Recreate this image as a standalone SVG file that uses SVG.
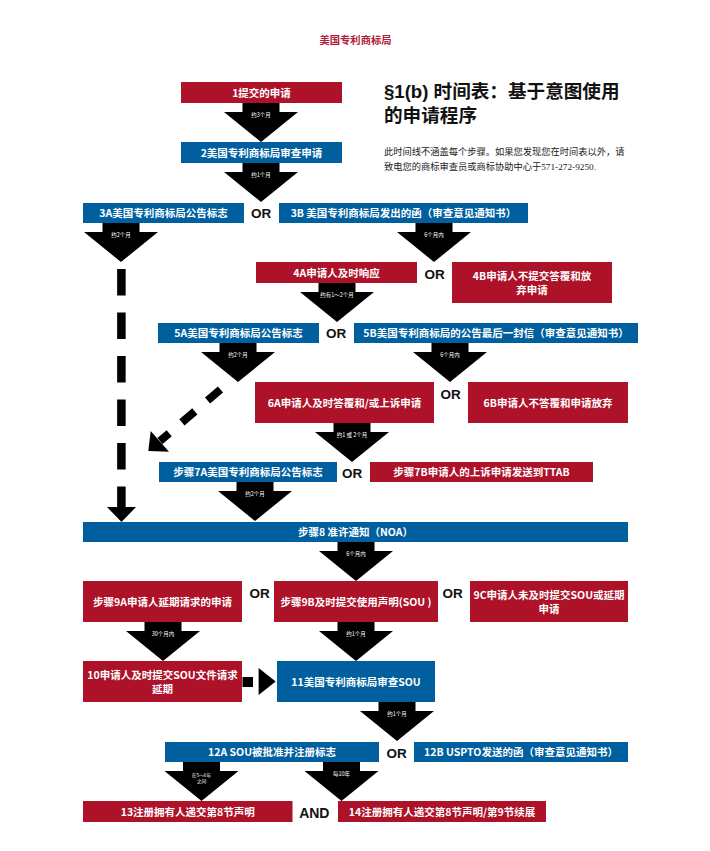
<svg xmlns="http://www.w3.org/2000/svg" xmlns:xlink="http://www.w3.org/1999/xlink" width="710" height="851" viewBox="0 0 710 851">
<style>
.red{fill:#ad1229}
.blue{fill:#00609f}
.bt{font-family:"Noto Sans CJK SC","Noto Sans",sans-serif;font-weight:bold;font-size:10.5px;fill:#fff;text-anchor:middle}
.or{font-family:"Liberation Sans",Arial,sans-serif;font-weight:bold;font-size:13.5px;fill:#111;text-anchor:middle}
.lbl{font-family:"Noto Sans CJK SC","Noto Sans",sans-serif;font-size:5.5px;fill:#fff;text-anchor:middle}
.arr{fill:#000}
</style>
<defs>
<path id="bigArrow" d="M-18.5,0 H18.5 V9 H37 L0,39 L-37,9 H-18.5 Z"/>
</defs>
<rect width="710" height="851" fill="#fff"/>
<g id="header">
<text x="355.5" y="44" style="font-family:'Noto Sans CJK SC',sans-serif;font-weight:bold;font-size:10.3px;fill:#b0203a;text-anchor:middle">美国专利商标局</text>
<text x="384" y="98" style="font-family:'Liberation Sans','Noto Sans CJK SC',sans-serif;font-weight:bold;font-size:18.6px;fill:#111">§1(b) 时间表：基于意图使用</text>
<text x="384" y="121.5" style="font-family:'Noto Sans CJK SC',sans-serif;font-weight:bold;font-size:18.6px;fill:#111">的申请程序</text>
<text x="384" y="155.2" style="font-family:'Liberation Serif','Noto Sans CJK SC',serif;font-size:9.25px;fill:#1a1a1a">此时间线不涵盖每个步骤。如果您发现您在时间表以外，请</text>
<text x="384" y="170.2" style="font-family:'Liberation Serif','Noto Sans CJK SC',serif;font-size:9.25px;fill:#1a1a1a">致电您的商标审查员或商标协助中心于571-272-9250.</text>
</g>
<g id="connectors">
<use xlink:href="#bigArrow" href="#bigArrow" x="261" y="103" class="arr"/>
<use xlink:href="#bigArrow" href="#bigArrow" x="261" y="163" class="arr"/>
<use xlink:href="#bigArrow" href="#bigArrow" x="121" y="223" class="arr"/>
<use xlink:href="#bigArrow" href="#bigArrow" x="434" y="223" class="arr"/>
<use xlink:href="#bigArrow" href="#bigArrow" x="337" y="283" class="arr"/>
<use xlink:href="#bigArrow" href="#bigArrow" x="238" y="343" class="arr"/>
<use xlink:href="#bigArrow" href="#bigArrow" x="450" y="343" class="arr"/>
<use xlink:href="#bigArrow" href="#bigArrow" x="352" y="423" class="arr"/>
<use xlink:href="#bigArrow" href="#bigArrow" x="255" y="482" class="arr"/>
<use xlink:href="#bigArrow" href="#bigArrow" x="356" y="542" class="arr"/>
<use xlink:href="#bigArrow" href="#bigArrow" x="163" y="622" class="arr"/>
<use xlink:href="#bigArrow" href="#bigArrow" x="356" y="622" class="arr"/>
<use xlink:href="#bigArrow" href="#bigArrow" x="397" y="702" class="arr"/>
<use xlink:href="#bigArrow" href="#bigArrow" x="201.5" y="762" class="arr"/>
<use xlink:href="#bigArrow" href="#bigArrow" x="341.5" y="762" class="arr"/>
<line x1="121.4" y1="269" x2="121.4" y2="508" stroke="#000" stroke-width="8.5" stroke-dasharray="26.5 17"/>
<polygon points="107,507 136,507 121.5,522" fill="#000"/>
<line x1="220.5" y1="389.5" x2="160" y2="441" stroke="#000" stroke-width="8" stroke-dasharray="17 16.7"/>
<polygon points="148.3,451 150.7,431 169,451.7" fill="#000"/>
<rect x="242.5" y="677" width="10.5" height="10" fill="#000"/>
<polygon points="258.6,668 275.7,681.5 258.6,695" fill="#000"/>
<text class="lbl" x="261" y="117">约3个月</text>
<text class="lbl" x="261" y="177">约1个月</text>
<text class="lbl" x="121" y="237">约2个月</text>
<text class="lbl" x="434" y="237">6个月内</text>
<text class="lbl" x="337" y="297">约有1～2个月</text>
<text class="lbl" x="238" y="357">约2个月</text>
<text class="lbl" x="450" y="357">6个月内</text>
<text class="lbl" x="352" y="437">约1 或 2个月</text>
<text class="lbl" x="255" y="496">约2个月</text>
<text class="lbl" x="356" y="556">6个月内</text>
<text class="lbl" x="163" y="636">30个月内</text>
<text class="lbl" x="356" y="636">约1个月</text>
<text class="lbl" x="397" y="716">约1个月</text>
<text class="lbl" x="201.5" y="777.2" style="font-size:4.7px">在5～6年</text>
<text class="lbl" x="201.5" y="782.8" style="font-size:4.7px">之间</text>
<text class="lbl" x="341.5" y="776.3">每10年</text>
</g>
<g id="n1"><rect class="red" x="181" y="82" width="161" height="21"/><text class="bt" x="261.5" y="96.5">1提交的申请</text></g>
<g id="n2"><rect class="blue" x="181" y="142" width="161" height="21"/><text class="bt" x="261.5" y="156.5">2美国专利商标局审查申请</text></g>
<g id="n3a"><rect class="blue" x="83" y="203" width="161" height="20"/><text class="bt" x="163.5" y="217">3A美国专利商标局公告标志</text></g>
<g id="n3b"><rect class="blue" x="279" y="203" width="249" height="20"/><text class="bt" x="403.5" y="217">3B 美国专利商标局发出的函（审查意见通知书）</text></g>
<g id="n4a"><rect class="red" x="256" y="262" width="161" height="21"/><text class="bt" x="336.5" y="276.5">4A申请人及时响应</text></g>
<g id="n4b"><rect class="red" x="452" y="262" width="160" height="41"/><text class="bt" x="532" y="280">4B申请人不提交答覆和放</text><text class="bt" x="532" y="293.5">弃申请</text></g>
<g id="n5a"><rect class="blue" x="158" y="323" width="161" height="20"/><text class="bt" x="238.5" y="337">5A美国专利商标局公告标志</text></g>
<g id="n5b"><rect class="blue" x="354" y="323" width="284" height="20"/><text class="bt" x="496" y="337">5B美国专利商标局的公告最后一封信（审查意见通知书）</text></g>
<g id="n6a"><rect class="red" x="255" y="382" width="179" height="41"/><text class="bt" x="344.5" y="406.5">6A申请人及时答覆和/或上诉申请</text></g>
<g id="n6b"><rect class="red" x="468" y="382" width="160" height="41"/><text class="bt" x="548" y="406.5">6B申请人不答覆和申请放弃</text></g>
<g id="n7a"><rect class="blue" x="159" y="462" width="178" height="20"/><text class="bt" x="248" y="476">步骤7A美国专利商标局公告标志</text></g>
<g id="n7b"><rect class="red" x="370" y="462" width="223" height="20"/><text class="bt" x="481.5" y="476">步骤7B申请人的上诉申请发送到TTAB</text></g>
<g id="n8"><rect class="blue" x="83" y="522" width="545" height="20"/><text class="bt" x="355.5" y="536">步骤8 准许通知（NOA）</text></g>
<g id="n9a"><rect class="red" x="83" y="581" width="159" height="41"/><text class="bt" x="162.5" y="605.5">步骤9A申请人延期请求的申请</text></g>
<g id="n9b"><rect class="red" x="274" y="581" width="164" height="41"/><text class="bt" x="356" y="605.5">步骤9B及时提交使用声明(SOU )</text></g>
<g id="n9c"><rect class="red" x="470" y="581" width="158" height="41"/><text class="bt" x="549" y="599.3">9C申请人未及时提交SOU或延期</text><text class="bt" x="549" y="612.8">申请</text></g>
<g id="n10"><rect class="red" x="83" y="661" width="159" height="41"/><text class="bt" x="162.5" y="679.3">10申请人及时提交SOU文件请求</text><text class="bt" x="162.5" y="692.8">延期</text></g>
<g id="n11"><rect class="blue" x="277" y="661" width="158" height="41"/><text class="bt" x="356" y="685.5">11美国专利商标局审查SOU</text></g>
<g id="n12a"><rect class="blue" x="165" y="742" width="214" height="20"/><text class="bt" x="272" y="756">12A SOU被批准并注册标志</text></g>
<g id="n12b"><rect class="blue" x="414" y="742" width="214" height="20"/><text class="bt" x="521" y="756">12B USPTO发送的函（审查意见通知书）</text></g>
<g id="n13"><rect class="red" x="83" y="801" width="209.5" height="21"/><text class="bt" x="187.75" y="815.5">13注册拥有人递交第8节声明</text></g>
<g id="n14"><rect class="red" x="338" y="801" width="208" height="21"/><text class="bt" x="442" y="815.5">14注册拥有人递交第8节声明/第9节续展</text></g>
<g id="operators">
<text class="or" x="261" y="218.1">OR</text>
<text class="or" x="434.5" y="279.1">OR</text>
<text class="or" x="336" y="338.1">OR</text>
<text class="or" x="450.5" y="399.1">OR</text>
<text class="or" x="352" y="478.1">OR</text>
<text class="or" x="259.5" y="597.5">OR</text>
<text class="or" x="452.7" y="597.5">OR</text>
<text class="or" x="396.6" y="758.1">OR</text>
<text class="or" x="314.3" y="817.7" style="font-size:14px">AND</text>
</g>
</svg>
